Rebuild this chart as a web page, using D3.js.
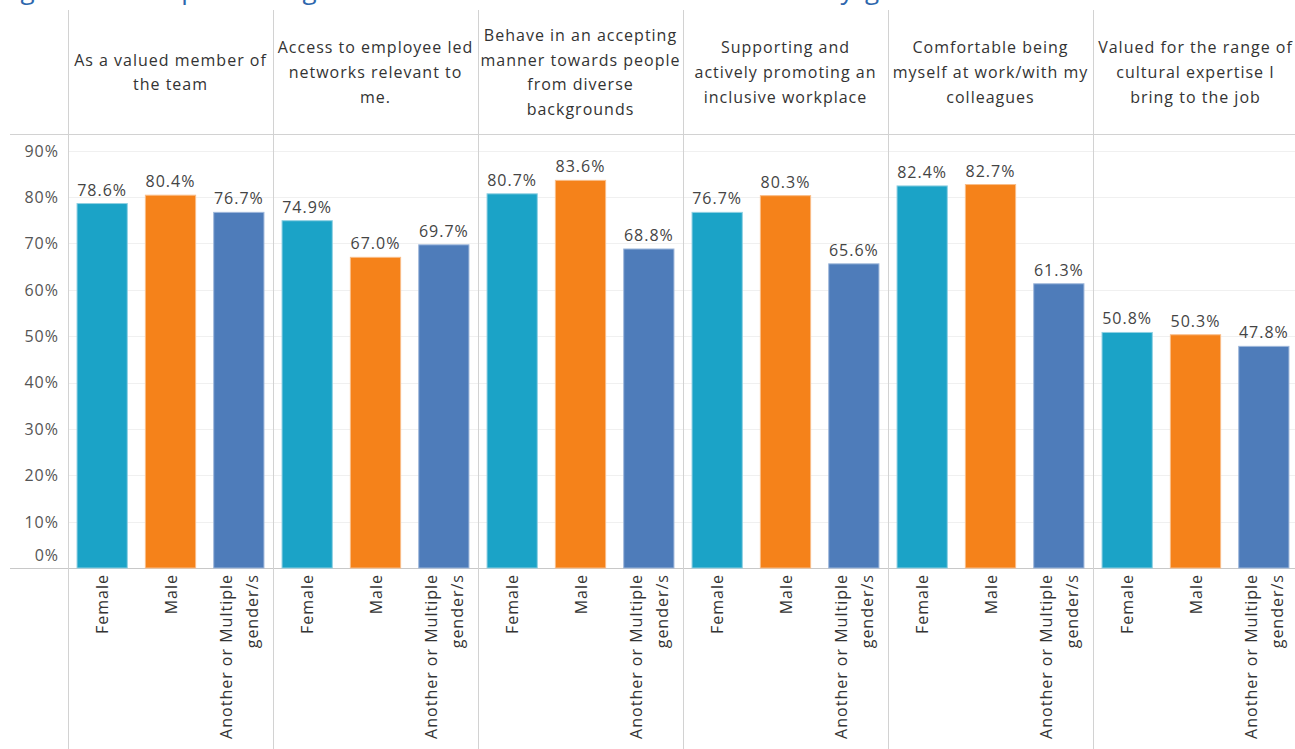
<!DOCTYPE html>
<html>
<head>
<meta charset="utf-8">
<script src="https://cdn.jsdelivr.net/npm/d3@7"></script>
<style>
  html, body { margin: 0; padding: 0; background: #fff; }
  svg { display: block; }
  text { font-family: "Open Sans", "DejaVu Sans", sans-serif; }
</style>
</head>
<body>
<svg id="chart" width="1295" height="749"></svg>
<script>
// Statements (column headers), each split into its display lines
const statements = [
  ["As a valued member of", "the team"],
  ["Access to employee led", "networks relevant to", "me."],
  ["Behave in an accepting", "manner towards people", "from diverse", "backgrounds"],
  ["Supporting and", "actively promoting an", "inclusive workplace"],
  ["Comfortable being", "myself at work/with my", "colleagues"],
  ["Valued for the range of", "cultural expertise I", "bring to the job"]
];

// Gender groups (x-axis labels, split into lines)
const genders = ["Female", "Male", "Another or Multiple gender/s"];
const genderLines = [["Female"], ["Male"], ["Another or Multiple", "gender/s"]];

// Percentage agreeing, per statement
const female  = [78.6, 74.9, 80.7, 76.7, 82.4, 50.8];
const male    = [80.4, 67.0, 83.6, 80.3, 82.7, 50.3];
const another = [76.7, 69.7, 68.8, 65.6, 61.3, 47.8];

const yTicks = [0, 10, 20, 30, 40, 50, 60, 70, 80, 90];

const titleText = "Figure 13: Reported agreement with inclusion statements by gender";

const colors = { "Female": "#1ba3c7", "Male": "#f5821a", "Another or Multiple gender/s": "#4e7cba" };
const edge   = { "Female": "#8fd0e2", "Male": "#f9bd88", "Another or Multiple gender/s": "#9fb8db" };

const seriesByGender = { "Female": female, "Male": male, "Another or Multiple gender/s": another };

const svg = d3.select("#chart");
const W = 1295, H = 749;

const panelLeft = 68, colW = 205;
const headerTop = 10, headerBottom = 134, axisY = 568;
const lineColor = "#d2d2d2";
const spacing = 1;

// Column scale (one column per statement)
const keys = statements.map((d, i) => "s" + i);
const xCol = d3.scaleBand().domain(keys).range([panelLeft, panelLeft + colW * keys.length]);
// Bars within a column
const xBar = d3.scaleBand().domain(genders).range([0, colW]).paddingInner(0.25).paddingOuter(0.125);
// Value scale
const y = d3.scaleLinear().domain([0, 93.6]).range([axisY, headerBottom]);

// Title (runs off the top edge)
svg.append("text")
  .attr("x", -4).attr("y", -1.5)
  .attr("font-size", 26)
  .attr("fill", "#2e67ad")
  .attr("textLength", 966)
  .attr("lengthAdjust", "spacing")
  .text(titleText);

// Gridlines
svg.append("g").selectAll("line").data(yTicks.filter(t => t > 0)).join("line")
  .attr("x1", panelLeft).attr("x2", W)
  .attr("y1", d => Math.round(y(d)) + 0.5).attr("y2", d => Math.round(y(d)) + 0.5)
  .attr("stroke", "#f0f0f0").attr("stroke-width", 1);

// Y axis tick labels
const yAxis = d3.axisLeft(y).tickValues(yTicks).tickFormat(d => d + "%").tickSize(0).tickPadding(9);
const yg = svg.append("g").attr("transform", `translate(${panelLeft},0)`).call(yAxis);
yg.select(".domain").remove();
yg.selectAll("text")
  .attr("font-size", 16)
  .attr("letter-spacing", spacing)
  .attr("fill", "#555")
  .attr("font-family", "\"Open Sans\", sans-serif")
  .attr("dy", d => d === 0 ? "-0.45em" : "0.34em");

// Horizontal frame lines
svg.append("line").attr("x1", 10).attr("x2", W)
  .attr("y1", headerBottom + 0.5).attr("y2", headerBottom + 0.5)
  .attr("stroke", lineColor);
svg.append("line").attr("x1", 10).attr("x2", W)
  .attr("y1", axisY + 0.5).attr("y2", axisY + 0.5)
  .attr("stroke", "#c8c8c8");

// Vertical column separators
svg.append("g").selectAll("line").data(keys).join("line")
  .attr("x1", d => Math.round(xCol(d)) + 0.5).attr("x2", d => Math.round(xCol(d)) + 0.5)
  .attr("y1", headerTop).attr("y2", H)
  .attr("stroke", lineColor);

// Column headers
const lh = 24.6;
const headers = svg.append("g").selectAll("text").data(statements).join("text")
  .attr("text-anchor", "middle")
  .attr("font-size", 16)
  .attr("letter-spacing", spacing)
  .attr("fill", "#333")
  .attr("x", (d, i) => xCol(keys[i]) + colW / 2)
  .attr("y", d => (headerTop + headerBottom) / 2 + 6 - (d.length - 1) * lh / 2);
headers.each(function (lines, i) {
  d3.select(this).selectAll("tspan").data(lines).join("tspan")
    .attr("x", xCol(keys[i]) + colW / 2)
    .attr("dy", (l, j) => j === 0 ? 0 : lh)
    .text(l => l);
});

// Bars, value labels and gender labels for each column
keys.forEach((k, i) => {
  const g = svg.append("g").attr("transform", `translate(${xCol(k)},0)`);
  const rows = genders.map(gd => ({ gender: gd, value: seriesByGender[gd][i] }));

  g.selectAll("rect").data(rows).join("rect")
    .attr("x", d => xBar(d.gender) + 0.5)
    .attr("y", d => y(d.value))
    .attr("width", xBar.bandwidth() - 1)
    .attr("height", d => axisY - y(d.value))
    .attr("fill", d => colors[d.gender])
    .attr("stroke", d => edge[d.gender])
    .attr("stroke-width", 1);

  g.selectAll("text.val").data(rows).join("text")
    .attr("class", "val")
    .attr("text-anchor", "middle")
    .attr("font-size", 16)
    .attr("letter-spacing", spacing)
    .attr("fill", "#444")
    .attr("x", d => xBar(d.gender) + xBar.bandwidth() / 2)
    .attr("y", d => y(d.value) - 8)
    .text(d => d.value.toFixed(1) + "%");

  // Rotated category labels under the axis
  genders.forEach((gd, gi) => {
    const lines = genderLines[gi];
    const cx = xBar(gd) + xBar.bandwidth() / 2;
    lines.forEach((l, li) => {
      const off = (li - (lines.length - 1) / 2) * 25.5;
      g.append("text")
        .attr("transform", `translate(${cx + off + 6},${axisY + 6}) rotate(-90)`)
        .attr("text-anchor", "end")
        .attr("font-size", 16)
        .attr("letter-spacing", spacing)
        .attr("fill", "#333")
        .text(l);
    });
  });
});
</script>
</body>
</html>
